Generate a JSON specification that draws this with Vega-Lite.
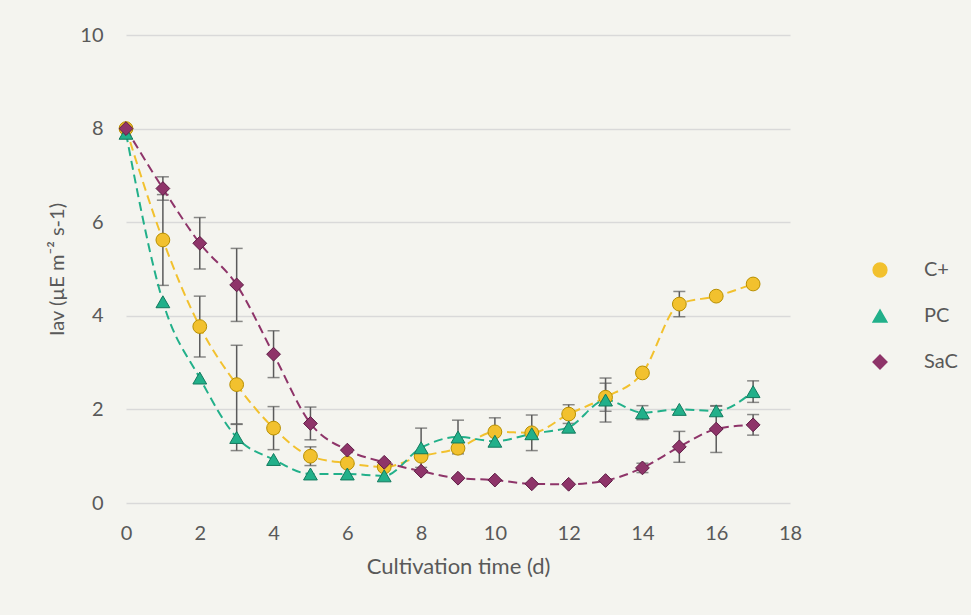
{
  "$schema": "https://vega.github.io/schema/vega-lite/v6.json",
  "width": 664,
  "height": 468,
  "autosize": "none",
  "padding": {"left": 126, "top": 35, "right": 181, "bottom": 112},
  "background": "#f4f4ef",
  "config": {
    "view": {"stroke": null},
    "font": "Lato",
    "axis": {"labelFont": "Lato", "titleFont": "Lato", "labelColor": "#595959", "titleColor": "#595959", "labelFontSize": 20, "titleFontSize": 20, "titleFontWeight": "normal"},
    "legend": {"labelFont": "Lato", "labelColor": "#595959", "labelFontSize": 20}
  },
  "data": {"values": [
    {"t": 0, "s": "C+", "v": 8.0, "e": 0},
    {"t": 1, "s": "C+", "v": 5.62, "e": 0.97},
    {"t": 2, "s": "C+", "v": 3.77, "e": 0.65},
    {"t": 3, "s": "C+", "v": 2.53, "e": 0.84},
    {"t": 4, "s": "C+", "v": 1.6, "e": 0.46},
    {"t": 5, "s": "C+", "v": 1.0, "e": 0.2},
    {"t": 6, "s": "C+", "v": 0.85, "e": 0},
    {"t": 7, "s": "C+", "v": 0.77, "e": 0},
    {"t": 8, "s": "C+", "v": 1.0, "e": 0},
    {"t": 9, "s": "C+", "v": 1.17, "e": 0},
    {"t": 10, "s": "C+", "v": 1.52, "e": 0.3},
    {"t": 11, "s": "C+", "v": 1.5, "e": 0.38},
    {"t": 12, "s": "C+", "v": 1.9, "e": 0.2},
    {"t": 13, "s": "C+", "v": 2.26, "e": 0.3},
    {"t": 14, "s": "C+", "v": 2.78, "e": 0},
    {"t": 15, "s": "C+", "v": 4.25, "e": 0.27},
    {"t": 16, "s": "C+", "v": 4.42, "e": 0},
    {"t": 17, "s": "C+", "v": 4.68, "e": 0},
    {"t": 0, "s": "PC", "v": 7.9, "e": 0},
    {"t": 1, "s": "PC", "v": 4.3, "e": 0},
    {"t": 2, "s": "PC", "v": 2.67, "e": 0},
    {"t": 3, "s": "PC", "v": 1.4, "e": 0.28},
    {"t": 4, "s": "PC", "v": 0.93, "e": 0},
    {"t": 5, "s": "PC", "v": 0.62, "e": 0},
    {"t": 6, "s": "PC", "v": 0.62, "e": 0},
    {"t": 7, "s": "PC", "v": 0.58, "e": 0},
    {"t": 8, "s": "PC", "v": 1.18, "e": 0.42},
    {"t": 9, "s": "PC", "v": 1.41, "e": 0.36},
    {"t": 10, "s": "PC", "v": 1.32, "e": 0},
    {"t": 11, "s": "PC", "v": 1.48, "e": 0},
    {"t": 12, "s": "PC", "v": 1.62, "e": 0},
    {"t": 13, "s": "PC", "v": 2.2, "e": 0.47},
    {"t": 14, "s": "PC", "v": 1.93, "e": 0.15},
    {"t": 15, "s": "PC", "v": 2.0, "e": 0},
    {"t": 16, "s": "PC", "v": 1.97, "e": 0.1},
    {"t": 17, "s": "PC", "v": 2.38, "e": 0.23},
    {"t": 0, "s": "SaC", "v": 8.0, "e": 0},
    {"t": 1, "s": "SaC", "v": 6.72, "e": 0.25},
    {"t": 2, "s": "SaC", "v": 5.55, "e": 0.55},
    {"t": 3, "s": "SaC", "v": 4.66, "e": 0.78},
    {"t": 4, "s": "SaC", "v": 3.18, "e": 0.5},
    {"t": 5, "s": "SaC", "v": 1.7, "e": 0.35},
    {"t": 6, "s": "SaC", "v": 1.13, "e": 0},
    {"t": 7, "s": "SaC", "v": 0.87, "e": 0},
    {"t": 8, "s": "SaC", "v": 0.68, "e": 0},
    {"t": 9, "s": "SaC", "v": 0.53, "e": 0},
    {"t": 10, "s": "SaC", "v": 0.49, "e": 0},
    {"t": 11, "s": "SaC", "v": 0.41, "e": 0},
    {"t": 12, "s": "SaC", "v": 0.4, "e": 0},
    {"t": 13, "s": "SaC", "v": 0.48, "e": 0},
    {"t": 14, "s": "SaC", "v": 0.75, "e": 0.1},
    {"t": 15, "s": "SaC", "v": 1.2, "e": 0.33},
    {"t": 16, "s": "SaC", "v": 1.58, "e": 0.5},
    {"t": 17, "s": "SaC", "v": 1.67, "e": 0.22}
  ]},
  "encoding": {
    "x": {"field": "t", "type": "quantitative", "scale": {"domain": [0, 18], "nice": false},
      "axis": {"title": "Cultivation time (d)", "titleFontSize": 22, "values": [0,2,4,6,8,10,12,14,16,18], "grid": false, "domain": false, "ticks": false, "labelFlush": false, "labelPadding": 20, "titlePadding": 13}},
    "y": {"field": "v", "type": "quantitative", "scale": {"domain": [0, 10], "nice": false},
      "axis": {"title": "Iav (µE m⁻² s-1)", "values": [0,2,4,6,8,10], "grid": true, "gridColor": "#d9d9d9", "gridWidth": 1.3, "domain": false, "ticks": false, "labelPadding": 23, "titlePadding": 12}}
  },
  "layer": [
    {
      "transform": [{"filter": "datum.e > 0"}],
      "mark": {"type": "errorbar", "ticks": {"size": 12, "thickness": 1.5, "color": "#5a5a5a"}, "rule": {"strokeWidth": 1.5, "color": "#5a5a5a"}},
      "encoding": {"yError": {"field": "e"}}
    },
    {
      "mark": {"type": "line", "strokeDash": [9, 5], "strokeWidth": 2, "interpolate": "monotone"},
      "encoding": {
        "color": {"field": "s", "type": "nominal", "scale": {"domain": ["C+", "PC", "SaC"], "range": ["#f2c12e", "#22b08a", "#8e3469"]}},
        "detail": {"field": "s"}
      }
    },
    {
      "mark": {"type": "point", "filled": true, "opacity": 1, "strokeWidth": 1, "size": 190},
      "encoding": {
        "color": {"field": "s", "type": "nominal", "scale": {"domain": ["C+", "PC", "SaC"], "range": ["#f2c12e", "#22b08a", "#8e3469"]},
          "legend": {"title": null, "orient": "none", "legendX": 744, "legendY": 224, "symbolSize": 200, "clipHeight": 22, "rowPadding": 24, "labelOffset": 34}},
        "stroke": {"field": "s", "type": "nominal", "scale": {"domain": ["C+", "PC", "SaC"], "range": ["#b88f00", "#127a5e", "#5e1b44"]}, "legend": null},
        "shape": {"field": "s", "type": "nominal", "scale": {"domain": ["C+", "PC", "SaC"], "range": ["circle", "triangle-up", "diamond"]}, "legend": null},
        "size": {"field": "s", "type": "nominal", "scale": {"domain": ["C+", "PC", "SaC"], "range": [190, 190, 230]}, "legend": null}
      }
    }
  ]
}
